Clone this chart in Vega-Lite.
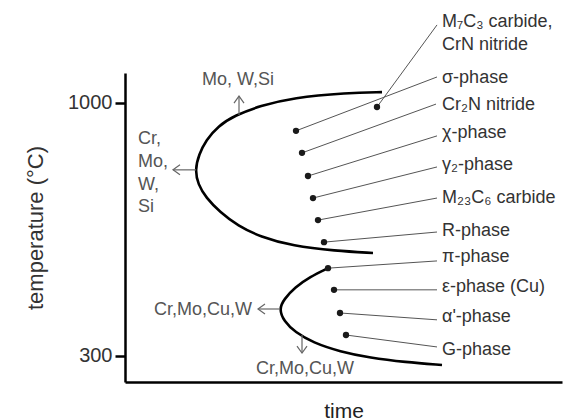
{
  "$schema": "https://vega.github.io/schema/vega-lite/v6.json",
  "width": 437,
  "height": 309,
  "autosize": "none",
  "padding": {"left": 125, "top": 73, "right": 3, "bottom": 38},
  "config": {
    "view": {"stroke": null},
    "font": "Liberation Sans",
    "axis": {"grid": false, "labelFont": "Liberation Sans", "titleFont": "Liberation Sans"}
  },
  "datasets": {
    "curves": [
      {"curve": "upper", "ord": 1, "t": 257, "temp": 1030},
      {"curve": "upper", "ord": 2, "t": 222, "temp": 1028},
      {"curve": "upper", "ord": 3, "t": 168, "temp": 1015},
      {"curve": "upper", "ord": 4, "t": 135, "temp": 992},
      {"curve": "upper", "ord": 5, "t": 110, "temp": 966},
      {"curve": "upper", "ord": 6, "t": 93, "temp": 936},
      {"curve": "upper", "ord": 7, "t": 81, "temp": 897},
      {"curve": "upper", "ord": 8, "t": 74, "temp": 858},
      {"curve": "upper", "ord": 9, "t": 70, "temp": 815},
      {"curve": "upper", "ord": 10, "t": 73, "temp": 775},
      {"curve": "upper", "ord": 11, "t": 81, "temp": 738},
      {"curve": "upper", "ord": 12, "t": 95, "temp": 698},
      {"curve": "upper", "ord": 13, "t": 113, "temp": 660},
      {"curve": "upper", "ord": 14, "t": 135, "temp": 630},
      {"curve": "upper", "ord": 15, "t": 168, "temp": 604},
      {"curve": "upper", "ord": 16, "t": 210, "temp": 591},
      {"curve": "upper", "ord": 17, "t": 248, "temp": 585},
      {"curve": "lower", "ord": 1, "t": 203, "temp": 543},
      {"curve": "lower", "ord": 2, "t": 185, "temp": 519},
      {"curve": "lower", "ord": 3, "t": 170, "temp": 490},
      {"curve": "lower", "ord": 4, "t": 159, "temp": 457},
      {"curve": "lower", "ord": 5, "t": 154, "temp": 430},
      {"curve": "lower", "ord": 6, "t": 159, "temp": 396},
      {"curve": "lower", "ord": 7, "t": 170, "temp": 366},
      {"curve": "lower", "ord": 8, "t": 188, "temp": 337},
      {"curve": "lower", "ord": 9, "t": 215, "temp": 312},
      {"curve": "lower", "ord": 10, "t": 245, "temp": 295},
      {"curve": "lower", "ord": 11, "t": 280, "temp": 283},
      {"curve": "lower", "ord": 12, "t": 317, "temp": 275}
    ],
    "phases": [
      {"phase": "M7C3 carbide, CrN nitride", "t": 252, "temp": 989, "t2": 312, "temp2": 1216},
      {"phase": "sigma", "t": 171, "temp": 923, "t2": 312, "temp2": 1072},
      {"phase": "Cr2N", "t": 177, "temp": 862, "t2": 311, "temp2": 997},
      {"phase": "chi", "t": 183, "temp": 798, "t2": 312, "temp2": 909},
      {"phase": "gamma2", "t": 188, "temp": 737, "t2": 312, "temp2": 823},
      {"phase": "M23C6", "t": 193, "temp": 676, "t2": 312, "temp2": 737},
      {"phase": "R", "t": 199, "temp": 615, "t2": 312, "temp2": 643},
      {"phase": "pi", "t": 203, "temp": 543, "t2": 312, "temp2": 563},
      {"phase": "epsilon", "t": 209, "temp": 483, "t2": 312, "temp2": 483},
      {"phase": "alpha'", "t": 215, "temp": 419, "t2": 312, "temp2": 400},
      {"phase": "G", "t": 221, "temp": 358, "t2": 312, "temp2": 325}
    ],
    "labels": [
      {"label": "M₇C₃ carbide,", "t": 317, "temp": 1224},
      {"label": "CrN nitride", "t": 317, "temp": 1160},
      {"label": "σ-phase", "t": 317, "temp": 1069},
      {"label": "Cr₂N nitride", "t": 317, "temp": 994},
      {"label": "χ-phase", "t": 317, "temp": 917},
      {"label": "γ₂-phase", "t": 317, "temp": 828},
      {"label": "M₂₃C₆ carbide", "t": 317, "temp": 737},
      {"label": "R-phase", "t": 317, "temp": 646},
      {"label": "π-phase", "t": 317, "temp": 574},
      {"label": "ε-phase (Cu)", "t": 317, "temp": 491},
      {"label": "α'-phase", "t": 317, "temp": 408},
      {"label": "G-phase", "t": 317, "temp": 317}
    ],
    "arrows": [
      {"dir": "up", "t": 114, "temp": 967, "t2": 114, "temp2": 1019, "angle": 90},
      {"dir": "left1", "t": 71, "temp": 815, "t2": 48, "temp2": 815, "angle": 0},
      {"dir": "left2", "t": 155, "temp": 430, "t2": 133, "temp2": 430, "angle": 0},
      {"dir": "down", "t": 177, "temp": 358, "t2": 177, "temp2": 308, "angle": 270}
    ],
    "notes": [
      {"note": "Mo, W,Si", "t": 113, "temp": 1064, "align": "center"},
      {"note": "Cr,", "t": 13, "temp": 900, "align": "left"},
      {"note": "Mo,", "t": 13, "temp": 837, "align": "left"},
      {"note": "W,", "t": 13, "temp": 773, "align": "left"},
      {"note": "Si", "t": 13, "temp": 712, "align": "left"},
      {"note": "Cr,Mo,Cu,W", "t": 127, "temp": 427, "align": "right"},
      {"note": "Cr,Mo,Cu,W", "t": 180, "temp": 264, "align": "center"}
    ]
  },
  "layer": [
    {
      "data": {"name": "curves"},
      "mark": {"type": "line", "interpolate": "basis", "color": "black", "strokeWidth": 2.6},
      "encoding": {
        "x": {"field": "t", "type": "quantitative", "scale": {"domain": [0, 437], "nice": false, "zero": false},
              "axis": {"title": "time", "ticks": false, "labels": false, "domainColor": "black", "domainWidth": 2.5, "titleFontSize": 21, "titleFontWeight": "normal", "titleColor": "#222", "titlePadding": 18}},
        "y": {"field": "temp", "type": "quantitative", "scale": {"domain": [228, 1083], "nice": false, "zero": false},
              "axis": {"title": "temperature (°C)", "values": [300, 1000], "format": "d", "tickSize": 10, "tickWidth": 2.5, "tickColor": "black", "domainColor": "black", "domainWidth": 2.5, "labelFontSize": 20, "labelColor": "#333", "labelPadding": 3, "titleFontSize": 22, "titleFontWeight": "normal", "titleColor": "#333", "titlePadding": 20}},
        "detail": {"field": "curve"},
        "order": {"field": "ord", "type": "quantitative"}
      }
    },
    {
      "data": {"name": "phases"},
      "mark": {"type": "rule", "color": "#555", "strokeWidth": 1},
      "encoding": {
        "x": {"field": "t", "type": "quantitative"},
        "y": {"field": "temp", "type": "quantitative"},
        "x2": {"field": "t2"},
        "y2": {"field": "temp2"}
      }
    },
    {
      "data": {"name": "phases"},
      "mark": {"type": "point", "filled": true, "color": "#1a1a1a", "size": 40, "opacity": 1},
      "encoding": {
        "x": {"field": "t", "type": "quantitative"},
        "y": {"field": "temp", "type": "quantitative"}
      }
    },
    {
      "data": {"name": "labels"},
      "mark": {"type": "text", "align": "left", "baseline": "middle", "fontSize": 18, "color": "#333"},
      "encoding": {
        "x": {"field": "t", "type": "quantitative"},
        "y": {"field": "temp", "type": "quantitative"},
        "text": {"field": "label"}
      }
    },
    {
      "data": {"name": "arrows"},
      "mark": {"type": "rule", "color": "#666", "strokeWidth": 1.2},
      "encoding": {
        "x": {"field": "t", "type": "quantitative"},
        "y": {"field": "temp", "type": "quantitative"},
        "x2": {"field": "t2"},
        "y2": {"field": "temp2"}
      }
    },
    {
      "data": {"name": "arrows"},
      "mark": {"type": "point", "shape": "M 1.4 -1 L 0 0 L 1.4 1", "filled": false, "color": "#666", "strokeWidth": 1.2, "size": 100, "opacity": 1},
      "encoding": {
        "x": {"field": "t2", "type": "quantitative"},
        "y": {"field": "temp2", "type": "quantitative"},
        "angle": {"field": "angle", "type": "quantitative", "scale": null}
      }
    },
    {
      "data": {"name": "notes"},
      "transform": [{"filter": "datum.align == 'left'"}],
      "mark": {"type": "text", "align": "left", "baseline": "middle", "fontSize": 18, "color": "#555"},
      "encoding": {
        "x": {"field": "t", "type": "quantitative"},
        "y": {"field": "temp", "type": "quantitative"},
        "text": {"field": "note"}
      }
    },
    {
      "data": {"name": "notes"},
      "transform": [{"filter": "datum.align == 'center'"}],
      "mark": {"type": "text", "align": "center", "baseline": "middle", "fontSize": 18, "color": "#555"},
      "encoding": {
        "x": {"field": "t", "type": "quantitative"},
        "y": {"field": "temp", "type": "quantitative"},
        "text": {"field": "note"}
      }
    },
    {
      "data": {"name": "notes"},
      "transform": [{"filter": "datum.align == 'right'"}],
      "mark": {"type": "text", "align": "right", "baseline": "middle", "fontSize": 18, "color": "#555"},
      "encoding": {
        "x": {"field": "t", "type": "quantitative"},
        "y": {"field": "temp", "type": "quantitative"},
        "text": {"field": "note"}
      }
    }
  ]
}
